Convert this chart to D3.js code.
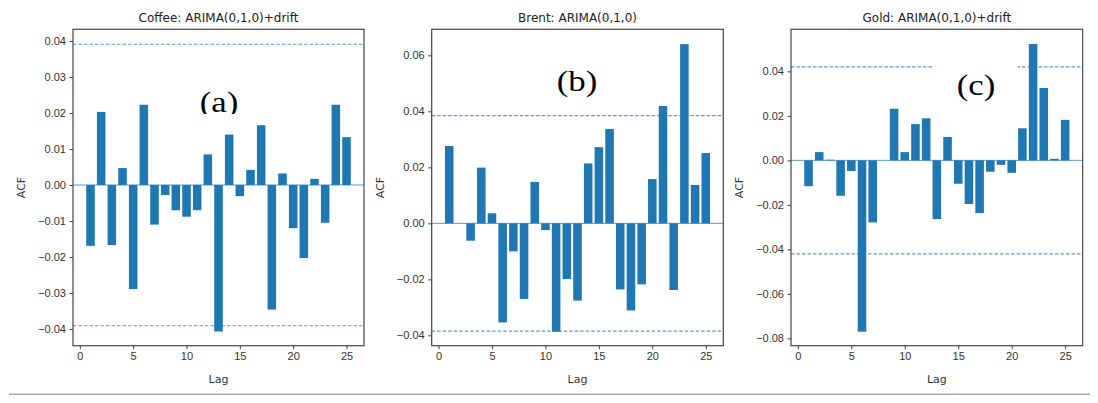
<!DOCTYPE html>
<html>
<head>
<meta charset="utf-8">
<script src="https://cdn.jsdelivr.net/npm/d3@7"></script>
<style>
  body { margin: 0; background: #fff; }
  svg { display: block; font-family: "DejaVu Sans", sans-serif; }
  .tick text { fill: #333; font-size: 11px; }
  .tick line { stroke: #444; }
</style>
</head>
<body>
<div id="chart"></div>
<script>
// lags 1..25 for every panel
const lags = d3.range(1, 26);

const coffeeAcf = [-0.0169, 0.0203, -0.0167, 0.0047, -0.0289, 0.0223, -0.0110, -0.0028, -0.0070, -0.0088,
  -0.0070, 0.0085, -0.0407, 0.0140, -0.0031, 0.0042, 0.0166, -0.0346, 0.0032, -0.0120,
  -0.0203, 0.0017, -0.0105, 0.0223, 0.0133];
const brentAcf = [0.0276, 0.0, -0.0062, 0.0199, 0.0036, -0.0354, -0.0100, -0.0270, 0.0148, -0.0024,
  -0.0387, -0.0199, -0.0276, 0.0214, 0.0272, 0.0337, -0.0236, -0.0311, -0.0218, 0.0158,
  0.0419, -0.0238, 0.0640, 0.0137, 0.0251];
const goldAcf = [-0.0116, 0.0037, 0.0003, -0.0159, -0.0048, -0.0770, -0.0279, 0.0, 0.0232, 0.0037,
  0.0163, 0.0189, -0.0264, 0.0105, -0.0105, -0.0196, -0.0237, -0.0051, -0.0020, -0.0056,
  0.0144, 0.0523, 0.0325, 0.0007, 0.0182];

const titles = ["Coffee: ARIMA(0,1,0)+drift", "Brent: ARIMA(0,1,0)", "Gold: ARIMA(0,1,0)+drift"];
const panelLabels = ["(a)", "(b)", "(c)"];
const confBands = [0.0391, 0.0385, 0.042];
const yTicks = [
  d3.range(-0.04, 0.0401, 0.01),
  d3.range(-0.04, 0.0601, 0.02),
  d3.range(-0.08, 0.0401, 0.02)
];
const xTicks = [0, 5, 10, 15, 20, 25];

const series = [coffeeAcf, brentAcf, goldAcf];

const width = 1098, height = 403;
const plotTop = 29.3, plotBottom = 345.7;
const panels = [
  { left: 73, right: 364, ymin: -0.04464, ymax: 0.04325, label: [219, 112], gap: null, clipY: 114 },
  { left: 431.7, right: 723.3, ymin: -0.0437, ymax: 0.0693, label: [577, 91], gap: null, clipY: null },
  { left: 791, right: 1082.7, ymin: -0.0833, ymax: 0.0589, label: [976, 94.5], gap: [933, 1018], clipY: null }
];

const svg = d3.select("#chart").append("svg")
  .attr("width", width)
  .attr("height", height);

const minus = s => s.replace("-", "\u2212");

panels.forEach((p, i) => {
  const vals = series[i];
  const x = d3.scaleLinear().domain([-0.64, 26.64]).range([p.left, p.right]);
  const y = d3.scaleLinear().domain([p.ymin, p.ymax]).range([plotBottom, plotTop]);
  const g = svg.append("g");
  const bw = x(0.8) - x(0);

  // confidence band lines
  [confBands[i], -confBands[i]].forEach(c => {
    g.append("line")
      .attr("x1", p.left).attr("x2", p.right)
      .attr("y1", y(c)).attr("y2", y(c))
      .attr("stroke", "#5b9bd5")
      .attr("stroke-width", 1.2)
      .attr("stroke-dasharray", "3.5,2");
  });

  // zero line
  g.append("line")
    .attr("x1", p.left).attr("x2", p.right)
    .attr("y1", y(0)).attr("y2", y(0))
    .attr("stroke", "#5b9bd5")
    .attr("stroke-width", 1);

  // white box behind the panel label (hides part of the dashed line in (c))
  if (p.gap) {
    g.append("rect")
      .attr("x", p.gap[0]).attr("y", 58)
      .attr("width", p.gap[1] - p.gap[0]).attr("height", 45)
      .attr("fill", "#fff");
  }

  // bars
  g.selectAll("rect.bar")
    .data(lags)
    .join("rect")
    .attr("class", "bar")
    .attr("x", d => x(d) - bw / 2)
    .attr("width", bw)
    .attr("y", (d, k) => y(Math.max(0, vals[k])))
    .attr("height", (d, k) => Math.abs(y(vals[k]) - y(0)))
    .attr("fill", "#1f77b4");

  // frame
  g.append("rect")
    .attr("x", p.left).attr("y", plotTop)
    .attr("width", p.right - p.left).attr("height", plotBottom - plotTop)
    .attr("fill", "none")
    .attr("stroke", "#444")
    .attr("stroke-width", 1.2);

  // axes
  const xAxis = d3.axisBottom(x).tickValues(xTicks).tickSize(3.5).tickPadding(3.5).tickFormat(d3.format("d"));
  const yAxis = d3.axisLeft(y).tickValues(yTicks[i]).tickSize(3.5).tickPadding(3.5)
    .tickFormat(d => minus(d3.format(".2f")(Math.abs(d) < 1e-9 ? 0 : d)));

  g.append("g")
    .attr("transform", `translate(0,${plotBottom})`)
    .call(xAxis)
    .call(a => a.select(".domain").remove());

  g.append("g")
    .attr("transform", `translate(${p.left},0)`)
    .call(yAxis)
    .call(a => a.select(".domain").remove());

  // title
  g.append("text")
    .attr("x", (p.left + p.right) / 2)
    .attr("y", 21.5)
    .attr("text-anchor", "middle")
    .attr("font-size", 12)
    .attr("fill", "#222")
    .text(titles[i]);

  // axis labels
  g.append("text")
    .attr("x", (p.left + p.right) / 2)
    .attr("y", 383)
    .attr("text-anchor", "middle")
    .attr("font-size", 11)
    .attr("fill", "#333")
    .text("Lag");

  g.append("text")
    .attr("transform", `translate(${p.left - 48},${(plotTop + plotBottom) / 2}) rotate(-90)`)
    .attr("text-anchor", "middle")
    .attr("font-size", 11)
    .attr("fill", "#333")
    .text("ACF");

  // panel label
  let lab = g.append("g");
  if (p.clipY) {
    svg.append("clipPath").attr("id", "clip" + i)
      .attr("clipPathUnits", "userSpaceOnUse")
      .append("rect").attr("x", 0).attr("y", 0).attr("width", width).attr("height", p.clipY);
    lab.attr("clip-path", `url(#clip${i})`);
  }
  lab.append("text")
    .attr("transform", `translate(${p.label[0]},${p.label[1]}) scale(1.2,1)`)
    .attr("text-anchor", "middle")
    .attr("font-family", "'Liberation Serif', serif")
    .attr("font-size", 29)
    .attr("fill", "#000")
    .text(panelLabels[i]);
});

// grey rule under the figure
svg.append("line")
  .attr("x1", 9).attr("x2", 1090)
  .attr("y1", 394.3).attr("y2", 394.3)
  .attr("stroke", "#aaa")
  .attr("stroke-width", 1.5);
</script>
</body>
</html>
